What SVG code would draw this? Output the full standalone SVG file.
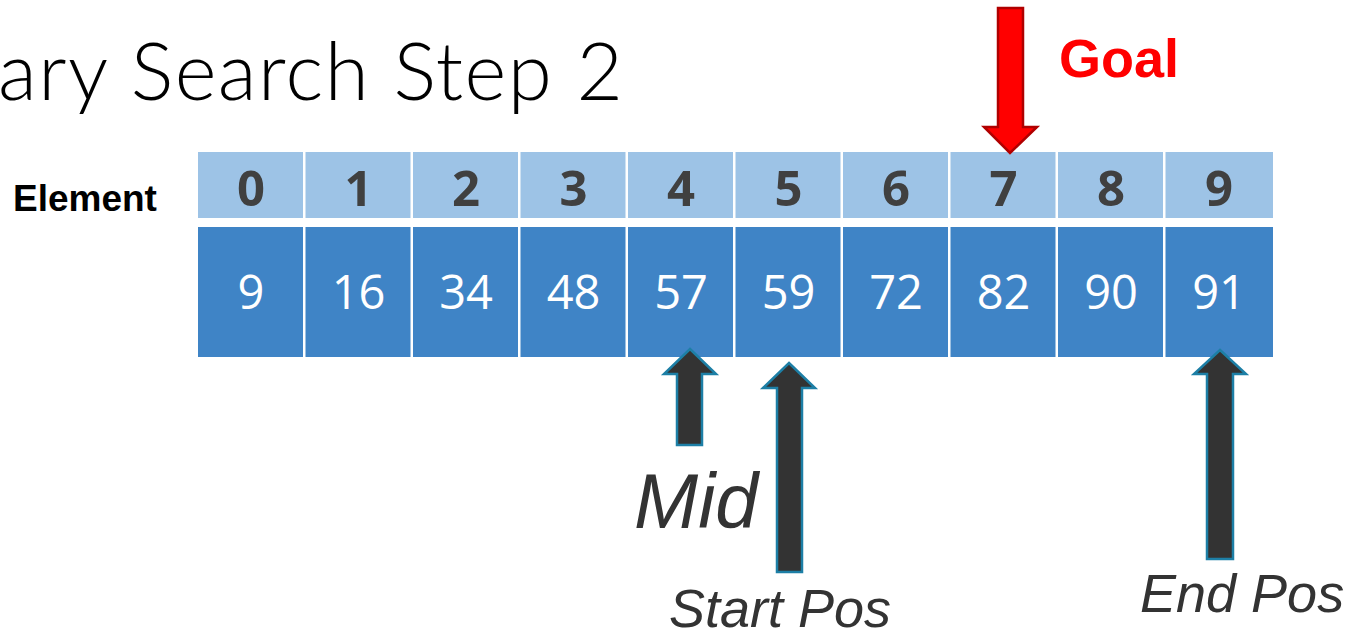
<svg xmlns="http://www.w3.org/2000/svg" width="1354" height="638" viewBox="0 0 1354 638">
<style>
.hdr{fill:#9DC3E6}
.val{fill:#3F84C6}
.ht{font-family:"Open Sans","Noto Sans",sans-serif;font-weight:700;font-size:49px;fill:#404040;text-anchor:middle}
.vt{font-family:"Open Sans","Noto Sans",sans-serif;font-weight:400;font-size:47px;fill:#FFFFFF;text-anchor:middle}
.ptr{fill:#333333;stroke:#1D7FA6;stroke-width:2.5;stroke-linejoin:miter}
.lbl{font-family:"Liberation Sans",Arial,sans-serif;font-style:italic;fill:#333333}
</style>
<rect width="1354" height="638" fill="#FFFFFF"/>
<g id="title">
<text x="-2" y="100" font-family="Lato,'Noto Sans',sans-serif" font-weight="300" font-size="80" fill="#000000" textLength="625" lengthAdjust="spacing">ary Search Step 2</text>
</g>
<g id="element-label">
<text x="13" y="211" font-family="'Liberation Sans',Arial,sans-serif" font-weight="700" font-size="37" fill="#000000">Element</text>
</g>
<g id="goal-label">
<text x="1059" y="77" font-family="'Liberation Sans',Arial,sans-serif" font-weight="700" font-size="54" fill="#FF0000">Goal</text>
</g>
<g id="cells">
<g id="cell-0"><rect class="hdr" x="198" y="152" width="105" height="66"/><rect class="val" x="198" y="227" width="105" height="130"/><text class="ht" x="251" y="206">0</text><text class="vt" x="251" y="309">9</text></g>
<g id="cell-1"><rect class="hdr" x="305.5" y="152" width="105" height="66"/><rect class="val" x="305.5" y="227" width="105" height="130"/><text class="ht" x="358.5" y="206">1</text><text class="vt" x="358.5" y="309">16</text></g>
<g id="cell-2"><rect class="hdr" x="413" y="152" width="105" height="66"/><rect class="val" x="413" y="227" width="105" height="130"/><text class="ht" x="466" y="206">2</text><text class="vt" x="466" y="309">34</text></g>
<g id="cell-3"><rect class="hdr" x="520.5" y="152" width="105" height="66"/><rect class="val" x="520.5" y="227" width="105" height="130"/><text class="ht" x="573.5" y="206">3</text><text class="vt" x="573.5" y="309">48</text></g>
<g id="cell-4"><rect class="hdr" x="628" y="152" width="105" height="66"/><rect class="val" x="628" y="227" width="105" height="130"/><text class="ht" x="681" y="206">4</text><text class="vt" x="681" y="309">57</text></g>
<g id="cell-5"><rect class="hdr" x="735.5" y="152" width="105" height="66"/><rect class="val" x="735.5" y="227" width="105" height="130"/><text class="ht" x="788.5" y="206">5</text><text class="vt" x="788.5" y="309">59</text></g>
<g id="cell-6"><rect class="hdr" x="843" y="152" width="105" height="66"/><rect class="val" x="843" y="227" width="105" height="130"/><text class="ht" x="896" y="206">6</text><text class="vt" x="896" y="309">72</text></g>
<g id="cell-7"><rect class="hdr" x="950.5" y="152" width="105" height="66"/><rect class="val" x="950.5" y="227" width="105" height="130"/><text class="ht" x="1003.5" y="206">7</text><text class="vt" x="1003.5" y="309">82</text></g>
<g id="cell-8"><rect class="hdr" x="1058" y="152" width="105" height="66"/><rect class="val" x="1058" y="227" width="105" height="130"/><text class="ht" x="1111" y="206">8</text><text class="vt" x="1111" y="309">90</text></g>
<g id="cell-9"><rect class="hdr" x="1165.5" y="152" width="107.5" height="66"/><rect class="val" x="1165.5" y="227" width="107.5" height="130"/><text class="ht" x="1219" y="206">9</text><text class="vt" x="1219" y="309">91</text></g>
</g>
<g id="connectors">
<path id="goal-arrow" d="M998,8 L1023,8 L1023,127 L1037,127 L1010,153 L984,127 L998,127 Z" fill="#FF0000" stroke="#B00000" stroke-width="2.5"/>
<path id="mid-arrow" class="ptr" d="M690,349 L716,374 L702,374 L702,445 L677,445 L677,374 L664,374 Z"/>
<path id="start-arrow" class="ptr" d="M789,363 L815,388 L802,388 L802,572 L777,572 L777,388 L763,388 Z"/>
<path id="end-arrow" class="ptr" d="M1220,350 L1246,374 L1233,374 L1233,559 L1207,559 L1207,374 L1194,374 Z"/>
</g>
<g id="mid-label"><text class="lbl" x="634" y="528" font-size="77">Mid</text></g>
<g id="start-label"><text class="lbl" x="669" y="627" font-size="54">Start Pos</text></g>
<g id="end-label"><text class="lbl" x="1140" y="612" font-size="54">End Pos</text></g>
</svg>
